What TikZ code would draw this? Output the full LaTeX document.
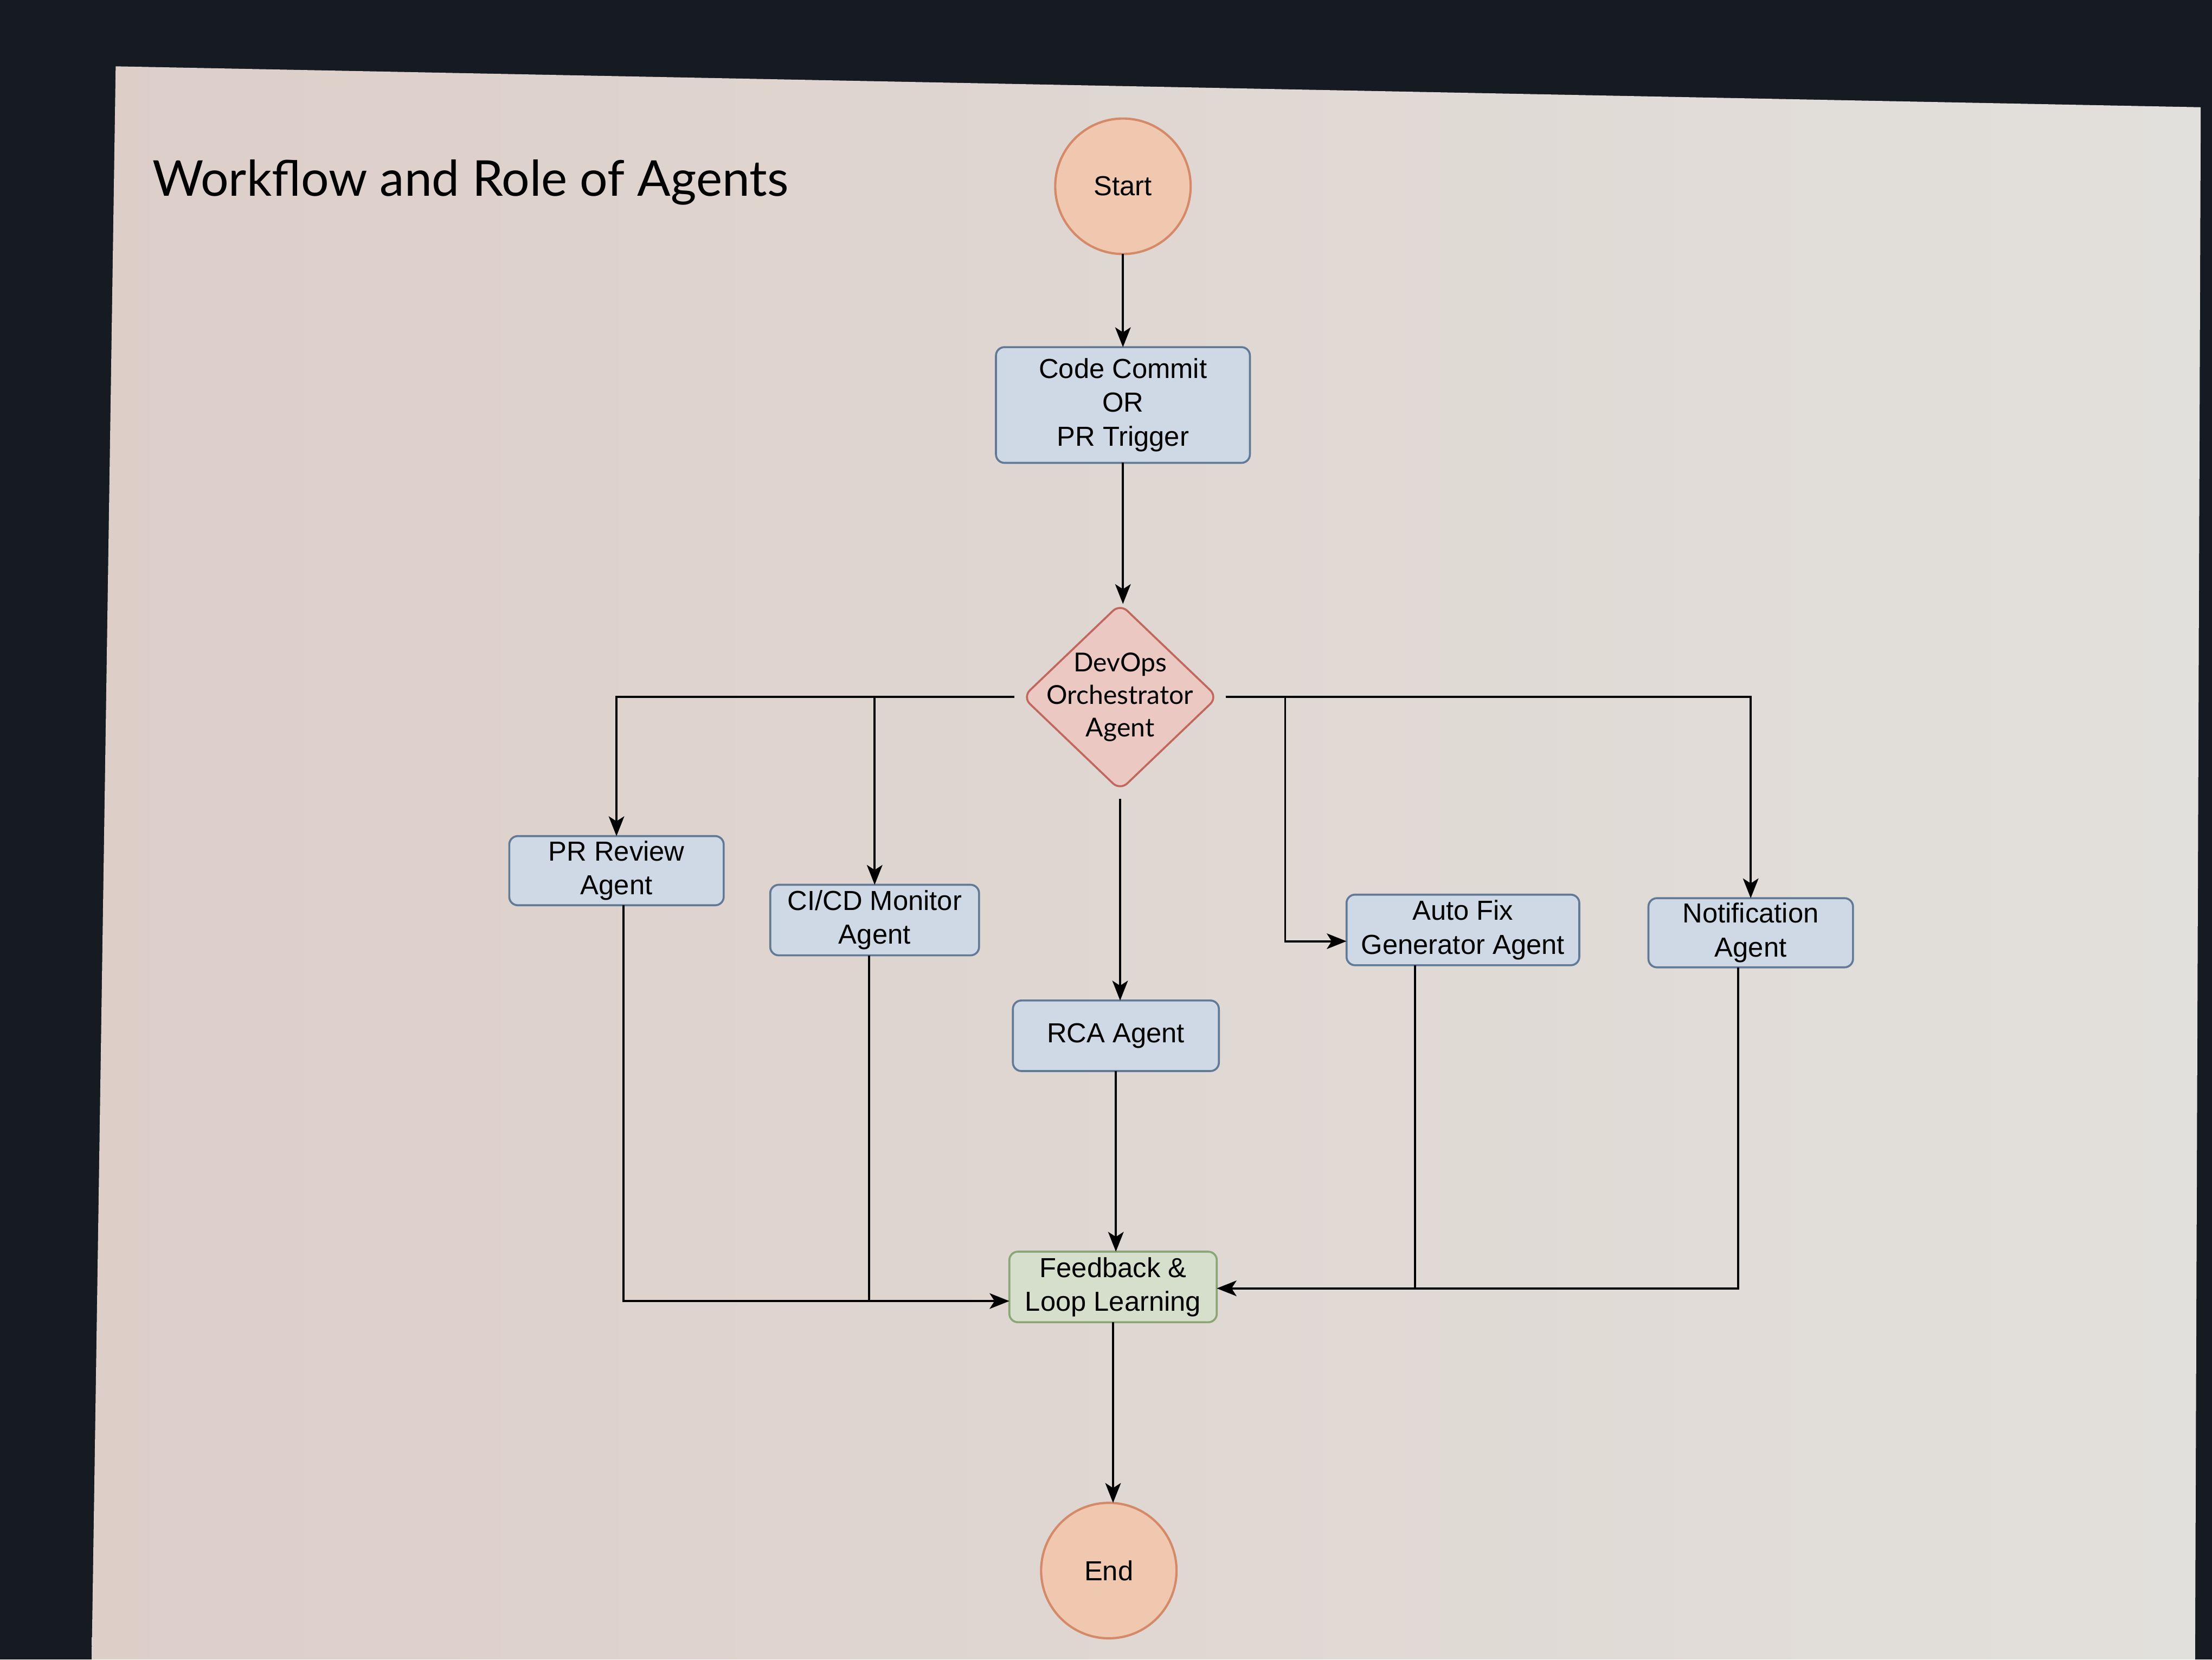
\documentclass[tikz,border=0pt]{standalone}
\usepackage{fontspec}
\setmainfont{Liberation Sans}
\newfontfamily\gill{Lato}
\usetikzlibrary{shapes.geometric,arrows.meta}
\definecolor{bezel}{RGB}{22,26,33}
\definecolor{pageL}{RGB}{221,206,200}
\definecolor{pageR}{RGB}{226,224,220}
\definecolor{peachF}{RGB}{240,200,176}
\definecolor{peachD}{RGB}{212,138,104}
\definecolor{blueF}{RGB}{206,217,229}
\definecolor{blueD}{RGB}{98,122,150}
\definecolor{pinkF}{RGB}{236,200,194}
\definecolor{pinkD}{RGB}{192,104,94}
\definecolor{greenF}{RGB}{214,223,204}
\definecolor{greenD}{RGB}{140,165,120}
\begin{document}
\begin{tikzpicture}[x=1pt,y=-1pt,
  every node/.style={inner sep=0pt, outer sep=0pt},
  bx/.style={draw=blueD, fill=blueF, line width=1.4pt, rounded corners=6pt, align=center, font=\fontsize{19.5}{24}\selectfont},
  term/.style={circle, draw=peachD, fill=peachF, line width=1.6pt, minimum size=96pt, font=\fontsize{19.5}{23}\selectfont},
  arr/.style={line width=1.5pt, -{Stealth[length=14pt,width=11pt,inset=3.5pt]}},
  ln/.style={line width=1.5pt}]
\useasboundingbox (0,0) rectangle (1568,1176);
\fill[bezel] (0,0) rectangle (1568,1176);
\shade[left color=pageL, right color=pageR] (82,47) -- (1560,76) -- (1556,1176) -- (65,1176) -- cycle;

\node[font=\gill\fontsize{35}{42}\selectfont, anchor=base west] (title) at (108,139) {Workflow and Role of Agents};

\node[term] (start) at (796,132) {Start};
\node[bx, minimum width=180pt, minimum height=82pt] (commit) at (796,287) {Code Commit\\OR\\PR Trigger};
\node[diamond, draw=pinkD, fill=pinkF, line width=1.4pt, rounded corners=7pt, minimum width=138pt, minimum height=132pt,
  label={[font=\gill\fontsize{18.5}{23}\selectfont, align=center]center:{DevOps\\Orchestrator\\Agent}}] (orch) at (794,494) {};
\node[bx, minimum width=152pt, minimum height=49pt] (pr) at (437,617) {PR Review\\Agent};
\node[bx, minimum width=148pt, minimum height=50pt] (cicd) at (620,652) {CI/CD Monitor\\Agent};
\node[bx, minimum width=146pt, minimum height=50pt] (rca) at (791,734) {RCA Agent};
\node[bx, minimum width=165pt, minimum height=50pt] (autofix) at (1037,659) {Auto Fix\\Generator Agent};
\node[bx, minimum width=145pt, minimum height=49pt] (notif) at (1241,661) {Notification\\Agent};
\node[bx, draw=greenD, fill=greenF, minimum width=147pt, minimum height=50pt] (fb) at (789,912) {Feedback \&\\Loop Learning};
\node[term] (end) at (786,1113) {End};

\draw[arr] (start) -- (commit);
\draw[arr] (commit.south) -- (commit.south |- orch.north);
\draw[arr] ([xshift=-6pt]orch.west) -| (pr.north);
\draw[arr] (orch.west -| cicd.north) -- (cicd.north);
\draw[arr] ([xshift=6pt]orch.east) -| (notif.north);
\coordinate (splitR) at (911,494);
\draw[arr] (splitR) |- ([yshift=-8pt]autofix.west);
\draw[arr] ([yshift=-6pt]orch.south) -- (orch.south |- rca.north);
\draw[arr] (rca) -- (rca.south |- fb.north);
\coordinate (fbin) at ([yshift=-10pt]fb.west);
\coordinate (fbinR) at ([yshift=-1pt]fb.east);
\draw[arr] ([xshift=5pt]pr.south) |- (fbin);
\draw[ln] ([xshift=-4pt]cicd.south) -- ([xshift=-4pt]cicd.south |- fbin);
\draw[arr] ([xshift=-9pt]notif.south) |- (fbinR);
\draw[ln] ([xshift=-34pt]autofix.south) -- ([xshift=-34pt]autofix.south |- fbinR);
\draw[arr] (fb.south) -- (fb.south |- end.north);
\end{tikzpicture}
\end{document}
